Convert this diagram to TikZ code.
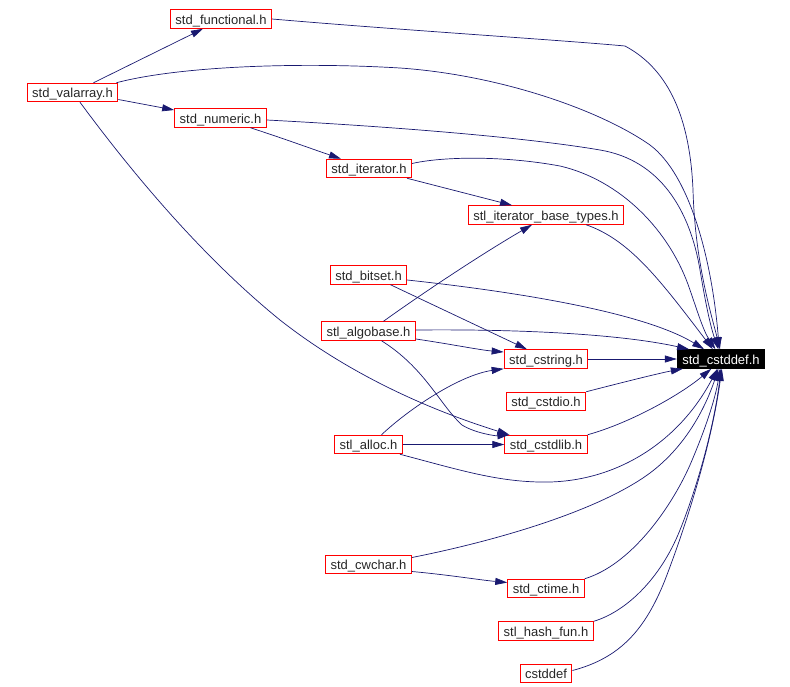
\documentclass[tikz,border=0pt]{standalone}
\usepackage{fontspec}
\setmainfont{Liberation Sans}
\usepackage{tikz}
\usetikzlibrary{arrows.meta}
\definecolor{navy}{RGB}{25,25,112}
\definecolor{filered}{RGB}{255,0,0}
\tikzstyle{file} = [draw=filered, line width=1pt, text=black!85, inner xsep=5pt, inner ysep=0pt,
    minimum height=18.5pt, text height=11pt, text depth=1pt, font=\fontsize{13}{15}\selectfont]
\tikzstyle{root} = [file, draw=black, fill=black, text=white]
\tikzstyle{incl} = [draw=navy, line width=0.7pt, -{Triangle[length=12pt,width=7pt]}]

\begin{document}
\begin{tikzpicture}[x=1pt, y=-1pt]
    \useasboundingbox (0,0) rectangle (790,686);
    % We start by placing the files
    \node [file] (functional) at (221,19) {std\_functional.h};
    \node [file] (valarray) at (72.5,92.5) {std\_valarray.h};
    \node [file] (numeric) at (220.5,118) {std\_numeric.h};
    \node [file] (iterator) at (369,168.5) {std\_iterator.h};
    \node [file] (itbase) at (546,215) {stl\_iterator\_base\_types.h};
    \node [file] (bitset) at (368.5,275) {std\_bitset.h};
    \node [file] (algobase) at (368.5,331) {stl\_algobase.h};
    \node [file] (cstring) at (546,359) {std\_cstring.h};
    \node [root] (cstddefh) at (721,359) {std\_cstddef.h};
    \node [file] (cstdio) at (546,401.5) {std\_cstdio.h};
    \node [file] (alloc) at (368.5,444.5) {stl\_alloc.h};
    \node [file] (cstdlib) at (546,444.5) {std\_cstdlib.h};
    \node [file] (cwchar) at (368.5,564.5) {std\_cwchar.h};
    \node [file] (ctime) at (546,588.5) {std\_ctime.h};
    \node [file] (hashfun) at (546,631) {stl\_hash\_fun.h};
    \node [file] (cstddef) at (546,673.5) {cstddef};

    % Then the include edges, file by file
    \draw [incl] ([xshift=21pt]valarray.north) -- ([xshift=-18pt]functional.south);
    \draw [incl] ([yshift=-7pt]valarray.east) -- ([yshift=8pt]numeric.west);
    \draw [incl] ([xshift=-2pt]valarray.north east) .. controls (180,66) and (300,62) .. (400,68)
        .. controls (500,75) and (600,110) .. (650,145)
        .. controls (690,175) and (712,260) .. (cstddefh.100);
    \draw [incl] ([xshift=7.5pt]valarray.south) .. controls (130,170) and (200,255) .. (280,320)
        .. controls (350,375) and (430,410) .. ([xshift=5pt]cstdlib.north west);

    \draw [incl] (functional.east) .. controls (400,30) and (560,40) .. (625,46)
        .. controls (670,70) and (690,120) .. (693,190)
        .. controls (695,260) and (710,310) .. (cstddefh.95);

    \draw [incl] ([xshift=30pt]numeric.south) .. controls (285,139) and (315,150)
        .. ([xshift=-28pt]iterator.north);
    \draw [incl] ([yshift=-2pt]numeric.east) .. controls (400,127) and (530,138) .. (600,150)
        .. controls (660,160) and (690,210) .. (700,270)
        .. controls (705,300) and (710,325) .. (cstddefh.105);

    \draw [incl] ([xshift=38pt]iterator.south) -- ([xshift=-34pt]itbase.north);
    \draw [incl] ([yshift=5pt]iterator.east) .. controls (440,157) and (500,155) .. (560,166)
        .. controls (620,180) and (670,230) .. (690,290)
        .. controls (697,310) and (703,330) .. (cstddefh.120);

    \draw [incl] ([xshift=-38pt]itbase.south east) .. controls (630,240) and (660,280)
        .. (cstddefh.130);

    \draw [incl] ([xshift=22pt]bitset.south) -- ([xshift=-19pt]cstring.north);
    \draw [incl] ([yshift=-5pt]bitset.east) .. controls (500,290) and (640,310) .. (cstddefh.150);

    \draw [incl] ([xshift=15pt]algobase.north) .. controls (420,295) and (480,255)
        .. ([xshift=-14pt]itbase.south);
    \draw [incl] ([yshift=1pt]algobase.east) .. controls (520,329) and (620,334) .. (cstddefh.163);
    \draw [incl] ([yshift=-8pt]algobase.east) .. controls (450,344) and (480,350)
        .. ([yshift=7pt]cstring.west);
    \draw [incl] ([xshift=13pt]algobase.south) .. controls (425,368) and (440,405) .. (462,425)
        .. controls (475,433) and (495,436) .. ([xshift=5pt]cstdlib.north west);

    \draw [incl] (cstring) -- (cstddefh);
    \draw [incl] (cstdio.north east) .. controls (620,383) and (660,373)
        .. ([xshift=6pt]cstddefh.south west);
    \draw [incl] (cstdlib.north east) .. controls (630,423) and (680,395) .. (cstddefh.225);

    \draw [incl] ([xshift=13pt]alloc.north) .. controls (410,408) and (460,375) .. (cstring.south west);
    \draw [incl] (alloc) -- (cstdlib);
    \draw [incl] ([xshift=-3pt]alloc.south east) .. controls (460,470) and (500,483) .. (550,482)
        .. controls (620,480) and (680,440) .. (cstddefh.250);

    \draw [incl] ([yshift=-7pt]cwchar.east) .. controls (450,575) and (480,580)
        .. ([yshift=6pt]ctime.west);
    \draw [incl] ([yshift=7pt]cwchar.east) .. controls (500,540) and (600,510) .. (650,473)
        .. controls (690,443) and (708,400) .. (cstddefh.255);

    \draw [incl] (ctime.north east) .. controls (630,565) and (670,510) .. (690,465)
        .. controls (705,430) and (715,400) .. (cstddefh.265);
    \draw [incl] (hashfun.north east) .. controls (625,612) and (660,580) .. (680,530)
        .. controls (700,480) and (715,420) .. (cstddefh.270);
    \draw [incl] ([yshift=3pt]cstddef.east) .. controls (620,658) and (645,630) .. (665,580)
        .. controls (690,515) and (712,440) .. (cstddefh.275);
\end{tikzpicture}
\end{document}
